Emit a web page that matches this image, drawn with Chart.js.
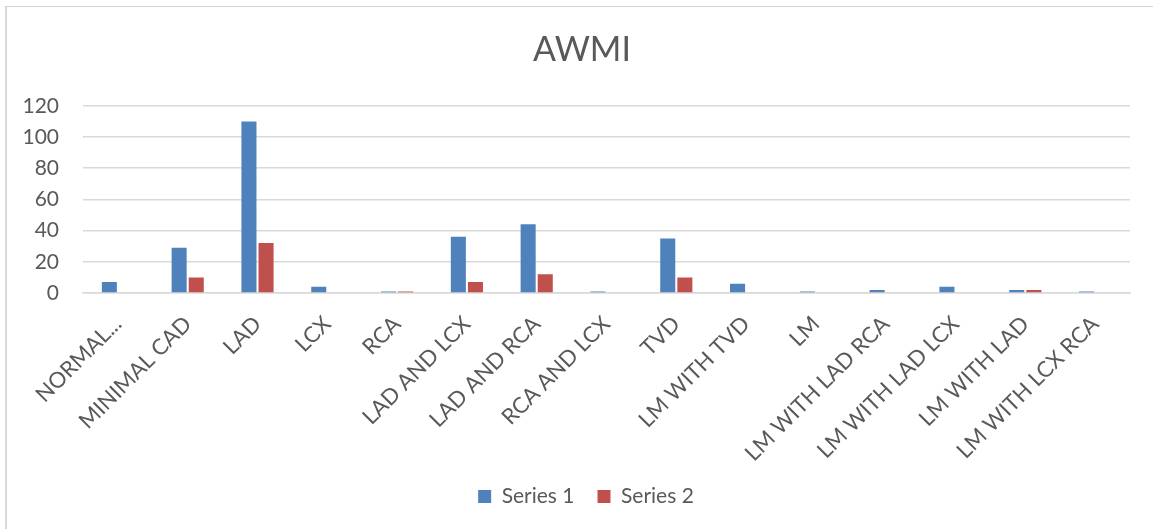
<!DOCTYPE html>
<html>
<head>
<meta charset="utf-8">
<script src="https://cdn.jsdelivr.net/npm/chart.js@4"></script>
<style>
  html, body { margin: 0; padding: 0; background: #fff; }
  #wrap { position: relative; width: 1153px; height: 529px; overflow: hidden; }
  #frame {
    position: absolute; left: 5px; top: 6px; width: 1300px; height: 700px;
    border-left: 2px solid #d9d9d9; border-top: 1px solid #d4d4d4;
  }
  canvas { position: absolute; left: 0; top: 0; }
</style>
</head>
<body>
<div id="wrap">
  <div id="frame"></div>
  <canvas id="chart" width="1153" height="529"></canvas>
</div>
<script>
// chart data
const categories = [
  "NORMAL...", "MINIMAL CAD", "LAD", "LCX", "RCA", "LAD AND LCX",
  "LAD AND RCA", "RCA AND LCX", "TVD", "LM WITH TVD", "LM",
  "LM WITH LAD RCA", "LM WITH LAD LCX", "LM WITH LAD", "LM WITH LCX RCA"
];
const series1 = [7, 29, 110, 4, 1, 36, 44, 1, 35, 6, 1, 2, 4, 2, 1];
const series2 = [0, 10, 32, 0, 1, 7, 12, 0, 10, 0, 0, 0, 0, 2, 0];
const seriesNames = ["Series 1", "Series 2"];
const titleText = "AWMI";

const TEXT_COLOR = "#595959";
const GRID_COLOR = "#d9d9d9";
const FONT = "Lato";

let chartElem = document.getElementById("chart");

// the original chart is wider than the crop, so title and legend sit a bit right of center
const shiftBlocks = {
  id: "shiftBlocks",
  afterLayout(chart) {
    if (chart.titleBlock) {
      chart.titleBlock.left += 17;
      chart.titleBlock.right += 17;
    }
    if (chart.legend) {
      chart.legend.left += 21;
      chart.legend.right += 21;
    }
  },
};

new Chart(chartElem, {
  type: "bar",
  data: {
    labels: categories,
    datasets: [
      {
        label: seriesNames[0],
        data: series1,
        backgroundColor: "#4f81bd",
        categoryPercentage: 0.49,
        barPercentage: 0.88,
      },
      {
        label: seriesNames[1],
        data: series2,
        backgroundColor: "#c0504d",
        categoryPercentage: 0.49,
        barPercentage: 0.88,
      },
    ],
  },
  options: {
    responsive: false,
    animation: false,
    layout: {
      padding: { left: 0, right: 23, top: 0, bottom: 12 },
    },
    scales: {
      x: {
        grid: { display: false, drawTicks: false },
        border: { color: GRID_COLOR, width: 1.5 },
        ticks: {
          color: TEXT_COLOR,
          font: { family: FONT, size: 22 },
          minRotation: 45,
          maxRotation: 45,
          autoSkip: false,
          padding: 18,
        },
        afterFit(scale) {
          scale.height = 170;
        },
      },
      y: {
        min: 0,
        max: 120,
        grid: { color: GRID_COLOR, lineWidth: 1.5, drawTicks: false },
        border: { display: false },
        ticks: {
          stepSize: 20,
          color: TEXT_COLOR,
          font: { family: FONT, size: 21 },
          padding: 24,
        },
        afterFit(scale) {
          scale.width = 83;
        },
      },
    },
    plugins: {
      title: {
        display: true,
        text: titleText,
        color: TEXT_COLOR,
        font: { family: FONT, size: 34, weight: "normal" },
        padding: { top: 30, bottom: 35 },
      },
      legend: {
        position: "bottom",
        labels: {
          color: TEXT_COLOR,
          font: { family: FONT, size: 21 },
          boxWidth: 13,
          boxHeight: 13,
          padding: 23,
        },
      },
      tooltip: { enabled: false },
    },
  },
  plugins: [shiftBlocks],
});
</script>
</body>
</html>
